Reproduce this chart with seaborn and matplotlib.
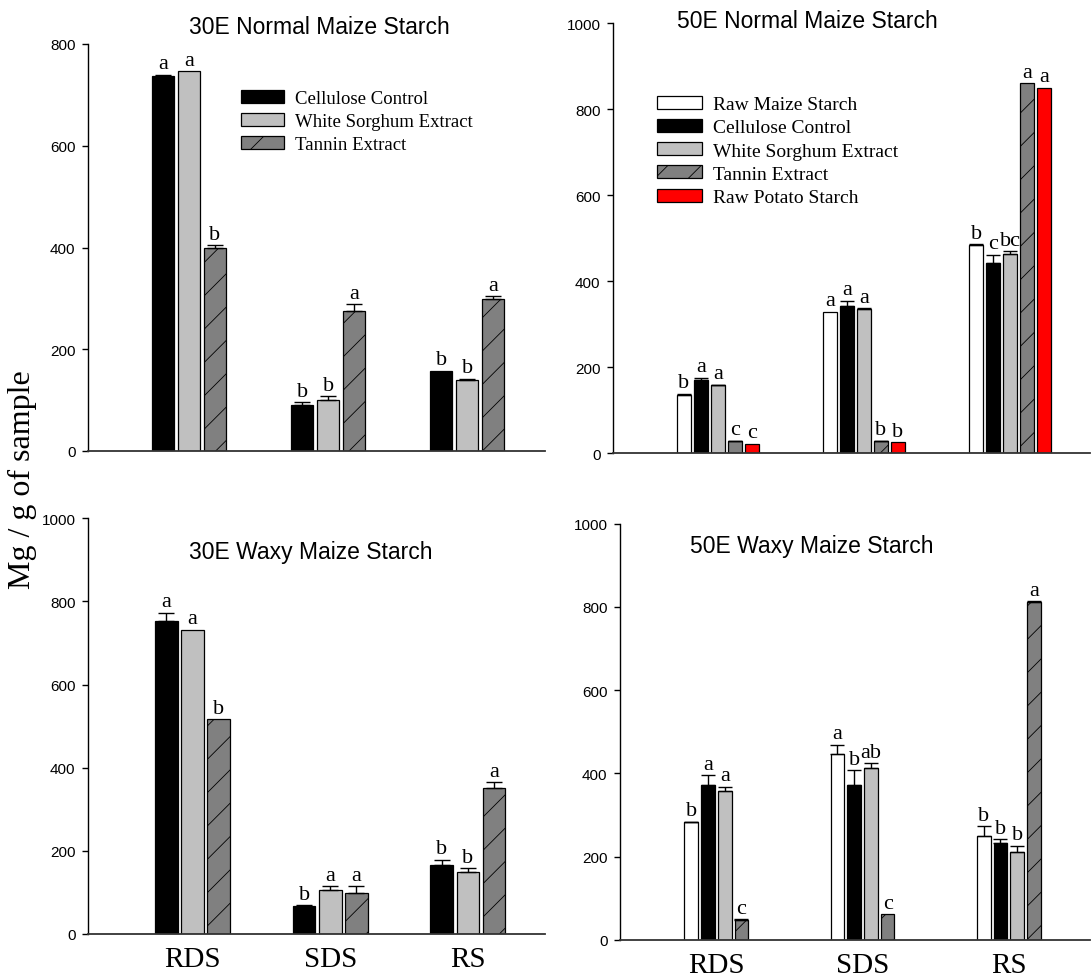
import numpy as np
import pandas as pd
import matplotlib
matplotlib.use("Agg")
import matplotlib.pyplot as plt
import seaborn as sns

# ---- data -------------------------------------------------------------
fractions = ["RDS", "SDS", "RS"]

# 30E normal maize starch
nm30_treatments = ["Cellulose Control", "White Sorghum Extract", "Tannin Extract"]
nm30_cellulose = [737, 90, 158]
nm30_cellulose_err = [3, 6, 0]
nm30_cellulose_sig = ["a", "b", "b"]
nm30_sorghum = [746, 100, 139]
nm30_sorghum_err = [0, 8, 3]
nm30_sorghum_sig = ["a", "b", "b"]
nm30_tannin = [400, 275, 298]
nm30_tannin_err = [5, 14, 6]
nm30_tannin_sig = ["b", "a", "a"]

# 50E normal maize starch
nm50_treatments = ["Raw Maize Starch", "Cellulose Control", "White Sorghum Extract",
                   "Tannin Extract", "Raw Potato Starch"]
nm50_raw = [136, 329, 483]
nm50_raw_err = [2, 0, 2]
nm50_raw_sig = ["b", "a", "b"]
nm50_cellulose = [169, 342, 443]
nm50_cellulose_err = [6, 12, 18]
nm50_cellulose_sig = ["a", "a", "c"]
nm50_sorghum = [157, 335, 462]
nm50_sorghum_err = [2, 2, 7]
nm50_sorghum_sig = ["a", "a", "bc"]
nm50_tannin = [27, 27, 860]
nm50_tannin_err = [2, 2, 0]
nm50_tannin_sig = ["c", "b", "a"]
nm50_potato = [22, 25, 850]
nm50_potato_err = [0, 0, 0]
nm50_potato_sig = ["c", "b", "a"]

# 30E waxy maize starch
wx30_treatments = ["Cellulose Control", "White Sorghum Extract", "Tannin Extract"]
wx30_cellulose = [754, 68, 166]
wx30_cellulose_err = [19, 2, 13]
wx30_cellulose_sig = ["a", "b", "b"]
wx30_sorghum = [732, 105, 148]
wx30_sorghum_err = [0, 10, 10]
wx30_sorghum_sig = ["a", "a", "b"]
wx30_tannin = [517, 99, 351]
wx30_tannin_err = [0, 16, 14]
wx30_tannin_sig = ["b", "a", "a"]

# 50E waxy maize starch
wx50_treatments = ["Raw Maize Starch", "Cellulose Control", "White Sorghum Extract",
                   "Tannin Extract"]
wx50_raw = [282, 446, 250]
wx50_raw_err = [2, 23, 23]
wx50_raw_sig = ["b", "a", "b"]
wx50_cellulose = [372, 372, 232]
wx50_cellulose_err = [24, 36, 10]
wx50_cellulose_sig = ["a", "b", "b"]
wx50_sorghum = [358, 412, 210]
wx50_sorghum_err = [10, 12, 16]
wx50_sorghum_sig = ["a", "ab", "b"]
wx50_tannin = [48, 61, 811]
wx50_tannin_err = [2, 0, 2]
wx50_tannin_sig = ["c", "c", "a"]

treatment_colors = {
    "Raw Maize Starch": "#ffffff",
    "Cellulose Control": "#000000",
    "White Sorghum Extract": "#c0c0c0",
    "Tannin Extract": "#808080",
    "Raw Potato Starch": "#ff0000",
}

# ---- style ------------------------------------------------------------
sns.set_style("ticks")
plt.rcParams["font.family"] = ["Liberation Sans", "DejaVu Sans"]
plt.rcParams["text.color"] = "black"
plt.rcParams["hatch.linewidth"] = 0.6
plt.rcParams["hatch.color"] = "#1a1a1a"

SERIF = "Liberation Serif"
SANS = "Liberation Sans"

W, H = 1091, 979
fig = plt.figure(figsize=(W / 100, H / 100), dpi=100)


def px(x, y):
    return x / W, 1 - y / H


def draw_panel(rect, treatments, values, errors, sigs, ymax, xlim,
               group_width, gap, capsize, show_xlabels):
    ax = fig.add_axes(rect)
    rows = []
    for t, vals in zip(treatments, values):
        for f, v in zip(fractions, vals):
            rows.append({"fraction": f, "treatment": t, "value": v})
    df = pd.DataFrame(rows)
    sns.barplot(data=df, x="fraction", y="value", hue="treatment",
                order=fractions, hue_order=treatments,
                palette=[treatment_colors[t] for t in treatments],
                saturation=1, width=group_width, gap=gap, errorbar=None,
                edgecolor="black", linewidth=0.9, legend=False, ax=ax)
    bars = list(ax.containers)
    for t, cont, errs, labels in zip(treatments, bars, errors, sigs):
        xs, tops = [], []
        for p in cont.patches:
            if t == "Tannin Extract":
                p.set_hatch("/")
            xs.append(p.get_x() + p.get_width() / 2)
            tops.append(p.get_height())
        xs = np.array(xs)
        tops = np.array(tops)
        errs = np.array(errs, dtype=float)
        has = errs > 0
        if has.any():
            ax.errorbar(xs[has], tops[has], yerr=[np.zeros(has.sum()), errs[has]],
                        fmt="none", ecolor="black", elinewidth=1.0,
                        capsize=capsize, capthick=1.0)
        for x, top, e, lab in zip(xs, tops, errs, labels):
            ax.annotate(lab, xy=(x, top + e), xytext=(0, 1.0),
                        textcoords="offset points", ha="center", va="bottom",
                        fontfamily=SERIF, fontsize=16, color="black")
    ax.set_xlim(*xlim)
    ax.set_ylim(0, ymax)
    ax.set_yticks(np.arange(0, ymax + 1, 200))
    ax.set_xlabel("")
    ax.set_ylabel("")
    sns.despine(ax=ax)
    ax.spines["left"].set_linewidth(1.0)
    ax.spines["left"].set_color("black")
    ax.spines["bottom"].set_linewidth(1.3)
    ax.spines["bottom"].set_color("#333333")
    ax.tick_params(axis="y", direction="out", length=4, width=1, pad=5,
                   labelsize=11, colors="black")
    ax.tick_params(axis="x", length=0, pad=9, colors="black")
    if show_xlabels:
        ax.set_xticks(range(len(fractions)))
        ax.set_xticklabels(fractions, fontfamily=SERIF, fontsize=21)
    else:
        ax.tick_params(axis="x", labelbottom=False)
    ax.grid(False)
    return ax, bars


# 30E normal maize starch
ax1, bars1 = draw_panel(
    [88 / W, 1 - 452 / H, (545 - 88) / W, (452 - 45) / H],
    nm30_treatments,
    [nm30_cellulose, nm30_sorghum, nm30_tannin],
    [nm30_cellulose_err, nm30_sorghum_err, nm30_tannin_err],
    [nm30_cellulose_sig, nm30_sorghum_sig, nm30_tannin_sig],
    800, (-0.727, 2.56), 0.56, 0.13, 6, False)
ax1.legend(bars1, nm30_treatments, loc="upper left",
           bbox_to_anchor=px(241, 91), bbox_transform=fig.transFigure,
           frameon=False, borderpad=0, borderaxespad=0, handlelength=2.3,
           handleheight=0.7, handletextpad=0.6, labelspacing=0.3,
           prop={"family": SERIF, "size": 13.5})

# 50E normal maize starch
ax2, bars2 = draw_panel(
    [613 / W, 1 - 454 / H, (1090 - 613) / W, (454 - 24) / H],
    nm50_treatments,
    [nm50_raw, nm50_cellulose, nm50_sorghum, nm50_tannin, nm50_potato],
    [nm50_raw_err, nm50_cellulose_err, nm50_sorghum_err, nm50_tannin_err,
     nm50_potato_err],
    [nm50_raw_sig, nm50_cellulose_sig, nm50_sorghum_sig, nm50_tannin_sig,
     nm50_potato_sig],
    1000, (-0.717, 2.546), 0.58, 0.18, 5, False)
ax2.legend(bars2, nm50_treatments, loc="upper left",
           bbox_to_anchor=px(657, 97), bbox_transform=fig.transFigure,
           frameon=False, borderpad=0, borderaxespad=0, handlelength=2.3,
           handleheight=0.65, handletextpad=0.6, labelspacing=0.3,
           prop={"family": SERIF, "size": 14})

# 30E waxy maize starch
ax3, _ = draw_panel(
    [88 / W, 1 - 935 / H, (545 - 88) / W, (935 - 519.3) / H],
    wx30_treatments,
    [wx30_cellulose, wx30_sorghum, wx30_tannin],
    [wx30_cellulose_err, wx30_sorghum_err, wx30_tannin_err],
    [wx30_cellulose_sig, wx30_sorghum_sig, wx30_tannin_sig],
    1000, (-0.76, 2.56), 0.57, 0.13, 6, True)

# 50E waxy maize starch
ax4, _ = draw_panel(
    [620 / W, 1 - 940.7 / H, (1090 - 620) / W, (940.7 - 524.7) / H],
    wx50_treatments,
    [wx50_raw, wx50_cellulose, wx50_sorghum, wx50_tannin],
    [wx50_raw_err, wx50_cellulose_err, wx50_sorghum_err, wx50_tannin_err],
    [wx50_raw_sig, wx50_cellulose_sig, wx50_sorghum_sig, wx50_tannin_sig],
    1000, (-0.659, 2.556), 0.457, 0.18, 5, True)

# panel titles
for text, (x, y) in [("30E Normal Maize Starch", (319, 27)),
                     ("50E Normal Maize Starch", (807, 22)),
                     ("30E Waxy Maize Starch", (311, 552)),
                     ("50E Waxy Maize Starch", (812, 547))]:
    fig.text(*px(x, y), text, ha="center", va="center",
             fontfamily=SANS, fontsize=16.5, color="black")

# shared y label
fig.text(*px(22, 480), "Mg / g of sample", rotation=90, ha="center",
         va="center", fontfamily=SERIF, fontsize=23, color="black")

fig.savefig("out.png", dpi=100, facecolor="white")
